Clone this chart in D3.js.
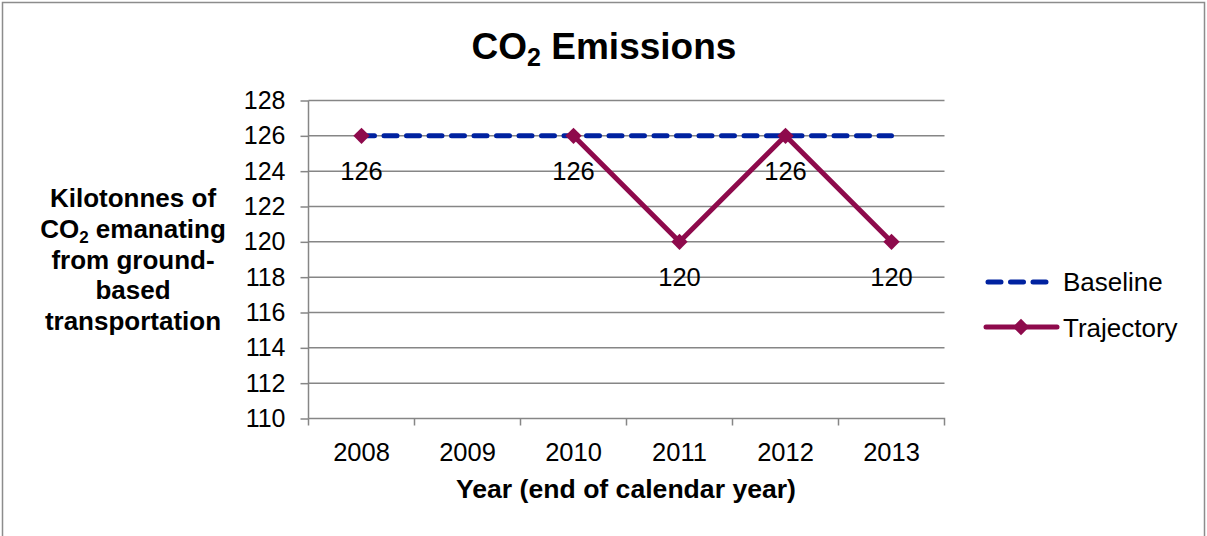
<!DOCTYPE html>
<html><head><meta charset="utf-8">
<script src="https://cdn.jsdelivr.net/npm/d3@7"></script>
<style>
html,body{margin:0;padding:0;background:#fff;}
svg{display:block;font-family:Arial,"Liberation Sans",sans-serif;}
</style></head>
<body>
<svg id="chart" width="1207" height="536"></svg>
<script>
const years = ["2008","2009","2010","2011","2012","2013"];
const baseline = [126,126,126,126,126,126];
const trajectory = [126,null,126,120,126,120];
const yTicks = [110,112,114,116,118,120,122,124,126,128];

(function(){
const svg = d3.select("#chart");
const pLeft = 308.5, pRight = 944.5, pTop = 100.5, pBottom = 418.5;

svg.append("rect").attr("x",2.5).attr("y",2.5).attr("width",1202).attr("height",560)
  .attr("fill","#fff").attr("stroke","#8c8c8c").attr("stroke-width",1.5);

const x = d3.scaleBand().domain(years).range([pLeft,pRight]).padding(0);
const y = d3.scaleLinear().domain([110,128]).range([pBottom,pTop]);

svg.append("g").selectAll("line").data(yTicks.filter(d=>d!==110)).join("line")
  .attr("x1",pLeft).attr("x2",pRight).attr("y1",d=>y(d)).attr("y2",d=>y(d))
  .attr("stroke","#868686").attr("stroke-width",1.5);

const yAxis = d3.axisLeft(y).tickValues(yTicks).tickSize(8).tickPadding(15).tickFormat(d3.format("d"));
const gy = svg.append("g").attr("transform",`translate(${pLeft},0)`).call(yAxis);
gy.select(".domain").attr("stroke","#868686").attr("stroke-width",1.5).attr("d",`M0,${pTop}V${pBottom}`);
gy.selectAll(".tick line").attr("stroke","#868686").attr("stroke-width",1.5);
gy.selectAll(".tick text").attr("font-size",25).attr("fill","#000")
  .attr("font-family","Arial,'Liberation Sans',sans-serif");

const xAxis = d3.axisBottom(x).tickSize(0).tickPadding(24);
const gx = svg.append("g").attr("transform",`translate(0,${pBottom})`).call(xAxis);
gx.select(".domain").attr("stroke","#868686").attr("stroke-width",1.5).attr("d",`M${pLeft},0H${pRight}V7`);
gx.selectAll(".tick text").attr("font-size",25.5).attr("fill","#000")
  .attr("font-family","Arial,'Liberation Sans',sans-serif");
gx.append("g").selectAll("line").data(years).join("line")
  .attr("x1",d=>x(d)).attr("x2",d=>x(d)).attr("y1",0).attr("y2",7)
  .attr("stroke","#868686").attr("stroke-width",1.5);

const cx = d => x(d) + x.bandwidth()/2;

const lineGen = d3.line().defined(d=>d.v!==null).x(d=>cx(d.k)).y(d=>y(d.v));
const bData = years.map((k,i)=>({k,v:baseline[i]}));
const tData = years.map((k,i)=>({k,v:trajectory[i]}));

svg.append("path").datum(bData).attr("d",lineGen)
  .attr("fill","none").attr("stroke","#0022a0").attr("stroke-width",5)
  .attr("stroke-dasharray","13,9.5").attr("stroke-linecap","round");

svg.append("path").datum(tData).attr("d",lineGen)
  .attr("fill","none").attr("stroke","#8e0a4c").attr("stroke-width",5)
  .attr("stroke-linejoin","round");

const diamond = d3.symbol().type(d3.symbolDiamond2).size(170);
svg.append("g").selectAll("path").data(tData.filter(d=>d.v!==null)).join("path")
  .attr("d",diamond).attr("transform",d=>`translate(${cx(d.k)},${y(d.v)})`)
  .attr("fill","#8e0a4c");

svg.append("g").selectAll("text").data(tData.filter(d=>d.v!==null)).join("text")
  .attr("x",d=>cx(d.k)).attr("y",d=>y(d.v)+44)
  .attr("text-anchor","middle").attr("font-size",25.5).attr("fill","#000")
  .text(d=>d.v);

const t = svg.append("text").attr("x",604).attr("y",59).attr("text-anchor","middle")
  .attr("font-size",37).attr("font-weight","bold").attr("fill","#000");
t.append("tspan").text("CO");
t.append("tspan").attr("font-size",25).attr("dy",7).text("2");
t.append("tspan").attr("dy",-7).text(" Emissions");

const yt = svg.append("text").attr("text-anchor","middle").attr("font-size",26)
  .attr("font-weight","bold").attr("fill","#000");
const ycx = 133;
yt.append("tspan").attr("x",ycx).attr("y",207).text("Kilotonnes of");
const l2 = yt.append("tspan").attr("x",ycx).attr("y",238);
l2.append("tspan").text("CO");
l2.append("tspan").attr("font-size",17).attr("dy",5).text("2");
l2.append("tspan").attr("dy",-5).text(" emanating");
yt.append("tspan").attr("x",ycx).attr("y",269).text("from ground-");
yt.append("tspan").attr("x",ycx).attr("y",299).text("based");
yt.append("tspan").attr("x",ycx).attr("y",330).text("transportation");

svg.append("text").attr("x",626).attr("y",498).attr("text-anchor","middle")
  .attr("font-size",26.6).attr("font-weight","bold").attr("fill","#000")
  .text("Year (end of calendar year)");

const lg = svg.append("g");
lg.append("line").attr("x1",988).attr("x2",1046).attr("y1",282).attr("y2",282)
  .attr("stroke","#0022a0").attr("stroke-width",5).attr("stroke-dasharray","13,9.5")
  .attr("stroke-linecap","round");
lg.append("text").attr("x",1063).attr("y",291).attr("font-size",26).attr("fill","#000").text("Baseline");
lg.append("line").attr("x1",986).attr("x2",1057).attr("y1",327).attr("y2",327)
  .attr("stroke","#8e0a4c").attr("stroke-width",5).attr("stroke-linecap","round");
lg.append("path").attr("d",diamond).attr("transform","translate(1021,327)").attr("fill","#8e0a4c");
lg.append("text").attr("x",1063).attr("y",337).attr("font-size",26).attr("fill","#000").text("Trajectory");
})();
</script>
</body></html>
